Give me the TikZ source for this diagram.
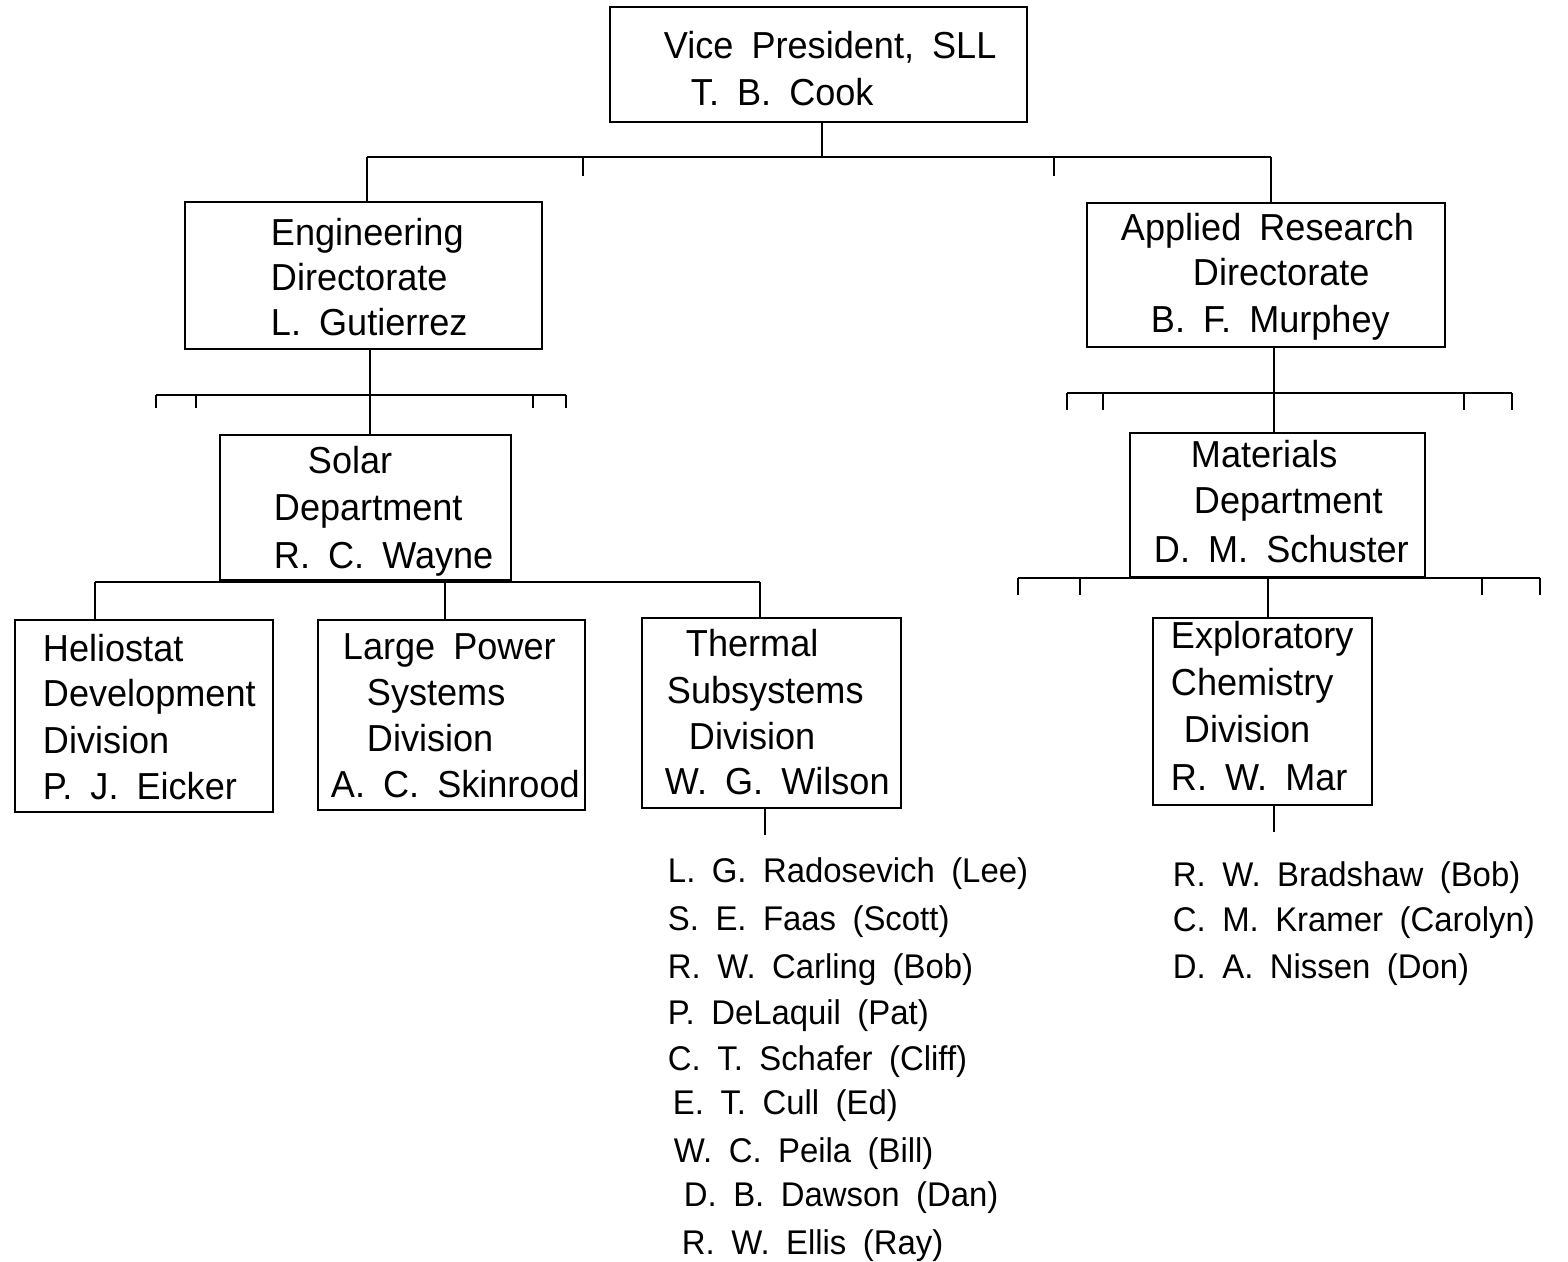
\documentclass[tikz,border=0pt]{standalone}
\usepackage{fontspec}
\setmainfont{Liberation Sans}[FakeStretch=0.96,WordSpace=1.8]
\usetikzlibrary{fit}
\begin{document}
\begin{tikzpicture}[x=0.02cm,y=-0.02cm,
  line width=1.1pt,
  box/.style={draw,inner sep=0pt,line width=1.1pt},
  lbl/.style={anchor=base west,inner sep=0pt,font=\fontsize{21.4pt}{26pt}\selectfont},
  lst/.style={anchor=base west,inner sep=0pt,font=\fontsize{19.5pt}{24pt}\selectfont},
  tick/.style={line width=1.1pt}]
\useasboundingbox (0,0) rectangle (1568,1261);

% boxes
\node[box, fit={(610,7) (1027,122)}] (vp) {};
\node[box, fit={(185,202) (542,349)}] (eng) {};
\node[box, fit={(1087,203) (1445,347)}] (ard) {};
\node[box, fit={(220,435) (511,580)}] (sol) {};
\node[box, fit={(1130,433) (1425,577)}] (mat) {};
\node[box, fit={(15,620) (273,812)}] (hel) {};
\node[box, fit={(318,620) (585,810)}] (lps) {};
\node[box, fit={(642,618) (901,808)}] (tsd) {};
\node[box, fit={(1153,618) (1372,805)}] (ecd) {};

% texts
\node[lbl] (vpa) at (663,58) {Vice President, SLL};
\node[lbl] (vpb) at (690,105) {T. B. Cook};

\node[lbl] (enga) at (270,245) {Engineering};
\node[lbl] (engb) at (270,290) {Directorate};
\node[lbl] (engc) at (270,335) {L. Gutierrez};

\node[lbl] (arda) at (1120,240) {Applied Research};
\node[lbl] (ardb) at (1192,285) {Directorate};
\node[lbl] (ardc) at (1150,332) {B. F. Murphey};

\node[lbl] (sola) at (307,473) {Solar};
\node[lbl] (solb) at (273,520) {Department};
\node[lbl] (solc) at (273,568) {R. C. Wayne};

\node[lbl] (mata) at (1190,467) {Materials};
\node[lbl] (matb) at (1193,513) {Department};
\node[lbl] (matc) at (1153,562) {D. M. Schuster};

\node[lbl] (hela) at (42,661) {Heliostat};
\node[lbl] (helb) at (42,706) {Development};
\node[lbl] (helc) at (42,753) {Division};
\node[lbl] (held) at (42,799) {P. J. Eicker};

\node[lbl] (lpsa) at (342,659) {Large Power};
\node[lbl] (lpsb) at (366,705) {Systems};
\node[lbl] (lpsc) at (366,751) {Division};
\node[lbl] (lpsd) at (330,797) {A. C. Skinrood};

\node[lbl] (tsda) at (685,656) {Thermal};
\node[lbl] (tsdb) at (666,703) {Subsystems};
\node[lbl] (tsdc) at (688,749) {Division};
\node[lbl] (tsdd) at (664,794) {W. G. Wilson};

\node[lbl] (ecda) at (1170,648) {Exploratory};
\node[lbl] (ecdb) at (1170,695) {Chemistry};
\node[lbl] (ecdc) at (1183,742) {Division};
\node[lbl] (ecdd) at (1170,790) {R. W. Mar};

% staff lists
\node[lst] (n1) at (667,882) {L. G. Radosevich (Lee)};
\node[lst] (n2) at (667,930) {S. E. Faas (Scott)};
\node[lst] (n3) at (667,978) {R. W. Carling (Bob)};
\node[lst] (n4) at (667,1024) {P. DeLaquil (Pat)};
\node[lst] (n5) at (667,1070) {C. T. Schafer (Cliff)};
\node[lst] (n6) at (672,1114) {E. T. Cull (Ed)};
\node[lst] (n7) at (673,1162) {W. C. Peila (Bill)};
\node[lst] (n8) at (683,1206) {D. B. Dawson (Dan)};
\node[lst] (n9) at (681,1254) {R. W. Ellis (Ray)};

\node[lst] (m1) at (1172,886) {R. W. Bradshaw (Bob)};
\node[lst] (m2) at (1172,931) {C. M. Kramer (Carolyn)};
\node[lst] (m3) at (1172,978) {D. A. Nissen (Don)};

% level 1 connectors
\coordinate (j0) at (822,157);
\coordinate (b1l) at (367,157);
\coordinate (b1r) at (1271,157);
\draw (j0 |- vp.south) -- (j0);
\draw (b1l) -- (b1r);
\draw (b1l) -- (b1l |- eng.north);
\draw (b1r) -- (b1r |- ard.north);
\coordinate (t1a) at (583,157); \coordinate (t1b) at (1054,157);
\draw[tick] (t1a) -- ++(0,19);
\draw[tick] (t1b) -- ++(0,19);

% engineering -> solar
\coordinate (j2) at (370,395);
\draw (j2 |- eng.south) -- (j2 |- sol.north);
\coordinate (b2l) at (156,395);
\coordinate (b2r) at (566,395);
\draw (b2l) -- (b2r);
\draw[tick] (b2l) -- ++(0,13);
\draw[tick] (196,395) coordinate (t2a) -- ++(0,13);
\draw[tick] (533,395) coordinate (t2b) -- ++(0,13);
\draw[tick] (b2r) -- ++(0,13);

% applied -> materials
\coordinate (j3) at (1274,393);
\draw (j3 |- ard.south) -- (j3 |- mat.north);
\coordinate (b3l) at (1067,393);
\coordinate (b3r) at (1512,393);
\draw (b3l) -- (b3r);
\draw[tick] (b3l) -- ++(0,17);
\draw[tick] (1103,393) coordinate (t3a) -- ++(0,17);
\draw[tick] (1464,393) coordinate (t3b) -- ++(0,17);
\draw[tick] (b3r) -- ++(0,17);

% solar -> divisions
\coordinate (b4l) at (95,582);
\coordinate (b4m) at (445,582);
\coordinate (b4r) at (760,582);
\draw (b4l) -- (b4r);
\draw (b4l) -- (b4l |- hel.north);
\draw (b4m) -- (b4m |- lps.north);
\draw (b4r) -- (b4r |- tsd.north);

% materials -> exploratory
\coordinate (b5l) at (1018,578);
\coordinate (b5r) at (1540,578);
\coordinate (b5m) at (1268,578);
\draw (b5l) -- (b5r);
\draw (b5m) -- (b5m |- ecd.north);
\draw[tick] (b5l) -- ++(0,17);
\draw[tick] (1080,578) coordinate (t5a) -- ++(0,17);
\draw[tick] (1482,578) coordinate (t5b) -- ++(0,17);
\draw[tick] (b5r) -- ++(0,17);

% stubs under divisions
\coordinate (s1) at (765,835);
\draw (s1 |- tsd.south) -- (s1);
\coordinate (s2) at (1274,832);
\draw (s2 |- ecd.south) -- (s2);
\end{tikzpicture}
\end{document}
